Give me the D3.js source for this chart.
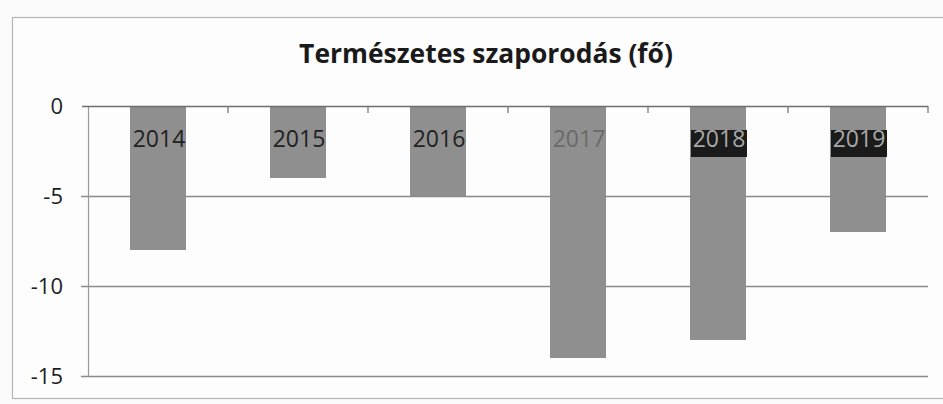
<!DOCTYPE html>
<html>
<head>
<meta charset="utf-8">
<script src="https://cdn.jsdelivr.net/npm/d3@7/dist/d3.min.js"></script>
<style>
  html, body { margin: 0; padding: 0; background: #fbfbfb; }
  svg { display: block; }
</style>
</head>
<body>
<svg id="chart" width="943" height="404"></svg>
<script>
// ---- data ----
const categories = ["2014", "2015", "2016", "2017", "2018", "2019"];
const values = [-8, -4, -5, -14, -13, -7];
const yTicks = [0, -5, -10, -15];
const title = "Természetes szaporodás (fő)";

// ---- styling constants ----
const W = 943, H = 404;
const plot = { left: 88, right: 928, top: 106, bottom: 376 };
const barColor = "#8f8f8f";
const gridColor = "#8a8a8a";
const dimLabels = ["2017"];          // label printed faint in the scan
const boxedLabels = ["2018", "2019"]; // label printed on a dark box in the scan

const svg = d3.select("#chart");

// frame
svg.append("rect")
  .attr("x", 12.5).attr("y", 17.5)
  .attr("width", 950).attr("height", 381)
  .attr("fill", "#fdfdfd")
  .attr("stroke", "#b5b5b5").attr("stroke-width", 1.2);

const x = d3.scaleBand()
  .domain(categories)
  .range([plot.left, plot.right])
  .paddingInner(0.6)
  .paddingOuter(0.3);

const y = d3.scaleLinear()
  .domain([-15, 0])
  .range([plot.bottom, plot.top]);

// gridlines
svg.append("g")
  .selectAll("line")
  .data(yTicks.filter(d => d !== 0))
  .join("line")
  .attr("x1", plot.left - 7).attr("x2", plot.right)
  .attr("y1", d => y(d) + 0.5).attr("y2", d => y(d) + 0.5)
  .attr("stroke", gridColor).attr("stroke-width", 1.3);

// left axis line
svg.append("line")
  .attr("x1", plot.left + 0.5).attr("x2", plot.left + 0.5)
  .attr("y1", plot.top).attr("y2", plot.bottom)
  .attr("stroke", "#9a9a9a").attr("stroke-width", 1.2);

// bars
svg.append("g")
  .selectAll("rect")
  .data(values)
  .join("rect")
  .attr("x", (d, i) => x(categories[i]))
  .attr("width", x.bandwidth())
  .attr("y", d => y(Math.max(0, d)))
  .attr("height", d => Math.abs(y(d) - y(0)))
  .attr("fill", barColor);

// zero axis line with category ticks
const xAxis = d3.axisBottom(x).tickSize(0).tickFormat("");
const gx = svg.append("g")
  .attr("transform", `translate(0,${y(0)})`)
  .call(xAxis);
gx.select(".domain").remove();
gx.append("line")
  .attr("x1", plot.left - 6).attr("x2", plot.right)
  .attr("y1", 0.5).attr("y2", 0.5)
  .attr("stroke", "#6e6e6e").attr("stroke-width", 1.4);
const step = x.step();
const boundaries = d3.range(categories.length + 1).map(i => plot.left + i * step);
gx.append("g")
  .selectAll("line")
  .data(boundaries.slice(1))
  .join("line")
  .attr("x1", d => d).attr("x2", d => d)
  .attr("y1", 0).attr("y2", 7)
  .attr("stroke", "#777").attr("stroke-width", 1.3);

// y tick labels
svg.append("g")
  .selectAll("text")
  .data(yTicks)
  .join("text")
  .attr("x", 63)
  .attr("y", d => y(d))
  .attr("dy", "0.36em")
  .attr("text-anchor", "end")
  .attr("font-family", "Open Sans, sans-serif")
  .attr("font-size", 22)
  .attr("fill", "#1e1e1e")
  .text(d => d3.format("d")(d).replace("−", "-"));

// category data labels inside bars
const labels = svg.append("g");
categories.forEach((c, i) => {
  const cx = x(c) + x.bandwidth() / 2;
  const baseY = y(0) + 41;
  const boxed = boxedLabels.includes(c);
  if (boxed) {
    labels.append("rect")
      .attr("x", x(c) + 1).attr("y", y(0) + 24)
      .attr("width", x.bandwidth()).attr("height", 27)
      .attr("fill", "#1b1b1b");
  }
  labels.append("text")
    .attr("x", cx + 1).attr("y", baseY)
    .attr("text-anchor", "middle")
    .attr("font-family", "Open Sans, sans-serif")
    .attr("font-size", 23)
    .attr("fill", boxed ? "#a8a8a8" : (dimLabels.includes(c) ? "#6a6a6a" : "#222"))
    .text(c);
});

// title
const t = svg.append("text")
  .attr("x", 486).attr("y", 63)
  .attr("text-anchor", "middle")
  .attr("font-family", "Open Sans, sans-serif")
  .attr("font-weight", "bold")
  .attr("font-size", 26)
  .attr("fill", "#1a1a1a")
  .text(title);
const tw = t.node().getComputedTextLength();
t.attr("font-size", 26 * 374 / tw);
</script>
</body>
</html>
